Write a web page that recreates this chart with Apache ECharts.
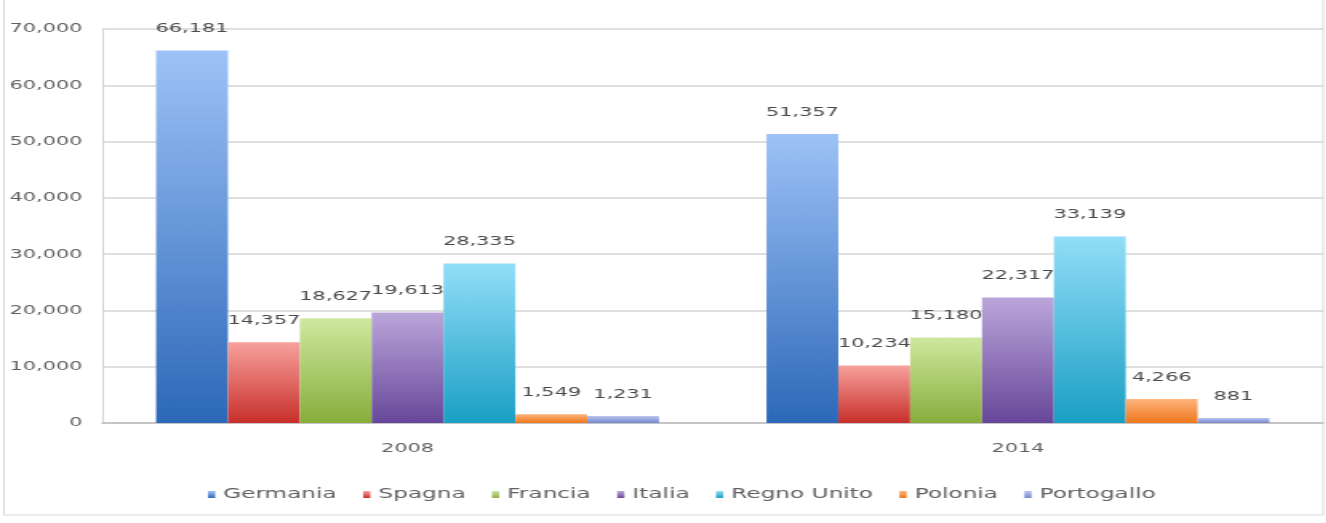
<!DOCTYPE html>
<html>
<head>
<meta charset="utf-8">
<script src="https://cdn.jsdelivr.net/npm/echarts@6/dist/echarts.min.js"></script>
<style>
  html, body { margin: 0; padding: 0; background: #ffffff; overflow: hidden; }
  /* the chart is laid out narrow and widened, giving the broad lettering */
  #chart { width: 829px; height: 523px; transform: scaleX(1.6); transform-origin: 0 0; }
</style>
</head>
<body>
<div id="chart"></div>
<script>
const years = ['2008', '2014'];
const countries = ['Germania', 'Spagna', 'Francia', 'Italia', 'Regno Unito', 'Polonia', 'Portogallo'];

const germania   = [66181, 51357];
const spagna     = [14357, 10234];
const francia    = [18627, 15180];
const italia     = [19613, 22317];
const regnoUnito = [28335, 33139];
const polonia    = [1549, 4266];
const portogallo = [1231, 881];

const yTicks = [0, 10000, 20000, 30000, 40000, 50000, 60000, 70000];

const seriesValues = [germania, spagna, francia, italia, regnoUnito, polonia, portogallo];

// top / bottom shades of each bar's vertical gradient
const shades = [
  ['#9dc2f7', '#2c68b8'],
  ['#f7a19c', '#c82f2b'],
  ['#cfe89f', '#88ad3c'],
  ['#bba6da', '#67479a'],
  ['#92def8', '#1a9fc4'],
  ['#fdb47c', '#ee771c'],
  ['#bac4f0', '#7787cb']
];

const fmt = v => v.toLocaleString('en-US');

const chart = echarts.init(document.getElementById('chart'));

const series = countries.map((name, i) => ({
  name: name,
  type: 'bar',
  barGap: '0%',
  barCategoryGap: '17.6%',
  data: seriesValues[i],
  itemStyle: {
    color: new echarts.graphic.LinearGradient(0, 0, 0, 1, [
      { offset: 0, color: shades[i][0] },
      { offset: 1, color: shades[i][1] }
    ])
  },
  label: {
    show: true,
    position: 'top',
    distance: 15,
    color: '#4a4a4a',
    fontSize: 13,
    formatter: p => fmt(p.value)
  },
  emphasis: { disabled: true }
}));

chart.setOption({
  animation: false,
  textStyle: { fontFamily: 'DejaVu Sans' },
  graphic: [{
    type: 'rect',
    shape: { x: 2.5, y: -20, width: 824.5, height: 535 },
    style: { fill: 'none', stroke: '#d9d9d9', lineWidth: 1 },
    silent: true
  }],
  grid: { left: 64, right: 2, top: 29, bottom: 100, containLabel: false },
  legend: {
    data: countries,
    left: 125,
    top: 482,
    icon: 'rect',
    itemWidth: 4.5,
    itemHeight: 7,
    itemGap: 16.5,
    textStyle: { color: '#606060', fontSize: 14.5, fontFamily: 'DejaVu Sans' }
  },
  xAxis: {
    type: 'category',
    data: years,
    axisLine: { lineStyle: { color: '#bfbfbf', width: 1.5 } },
    axisTick: { show: false },
    axisLabel: { color: '#606060', fontSize: 13, margin: 19 }
  },
  yAxis: {
    type: 'value',
    min: yTicks[0],
    max: yTicks[yTicks.length - 1],
    interval: yTicks[1] - yTicks[0],
    axisLine: { show: true, lineStyle: { color: '#d4d4d4', width: 1 } },
    axisTick: { show: false },
    axisLabel: { color: '#606060', fontSize: 13, margin: 12.5, formatter: v => fmt(v) },
    splitLine: { lineStyle: { color: '#d4d4d4', width: 1.5 } }
  },
  series: series
});
</script>
</body>
</html>
